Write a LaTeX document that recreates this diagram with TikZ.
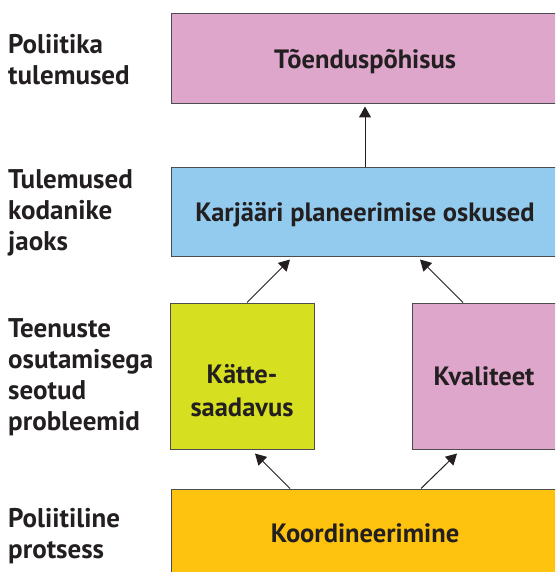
\documentclass[tikz,border=0pt]{standalone}
\usepackage{fontspec}
\setmainfont{PT Sans}
\usetikzlibrary{arrows.meta}
\definecolor{roosa}{HTML}{DDA6CA}
\definecolor{sinine}{HTML}{92CBEE}
\definecolor{laim}{HTML}{D7DF21}
\definecolor{oranz}{HTML}{FDC30F}
\definecolor{tekst}{HTML}{231F20}
\definecolor{joon}{HTML}{4D4D4F}
\begin{document}
\begin{tikzpicture}[x=1pt,y=-1pt,
    kast/.style={draw=joon,line width=1pt,text=tekst,align=center,inner sep=0pt,
        font=\fontsize{26.5}{33}\selectfont\bfseries},
    rida/.style={text height=21pt,text depth=2pt},
    silt/.style={anchor=west,align=left,text=tekst,inner sep=0pt,
        font=\fontsize{27}{31}\selectfont\bfseries},
    nool/.style={draw=tekst,line width=1pt,-{Triangle[length=11pt,width=12pt]}}]
    \useasboundingbox (0,0) rectangle (555,572);
    \clip (0,0) rectangle (555,572);
    % kastid
    \node[kast,rida,fill=roosa,minimum width=388pt,minimum height=90pt] (tulem) at (365,59) {Tõenduspõhisus};
    \node[kast,rida,fill=sinine,minimum width=388pt,minimum height=89pt] (oskus) at (365,211.5) {Karjääri planeerimise oskused};
    \node[kast,fill=laim,minimum width=144pt,minimum height=146pt] (kate) at (242,376) {};
    \node[kast,draw=none] (kate tekst) at ([yshift=-15pt]kate.center) {Kätte-\\saadavus};
    \node[kast,rida,fill=roosa,minimum width=144pt,minimum height=146pt] (kval) at (484,376) {Kvaliteet};
    \node[kast,rida,fill=oranz,minimum width=388pt,minimum height=88pt] (koord) at (365,533) {Koordineerimine};
    % nooled
    \draw[nool] (oskus.north) -- ([yshift=-2pt]tulem.south);
    \draw[nool] ([xshift=5pt]kate.north) -- ([xshift=-75pt,yshift=-3pt]oskus.south);
    \draw[nool] ([xshift=-21pt]kval.north) -- ([xshift=55pt,yshift=-3pt]oskus.south);
    \draw[nool] ([xshift=-75pt]koord.north) -- ([xshift=13pt,yshift=-4pt]kate.south);
    \draw[nool] ([xshift=56pt]koord.north) -- ([xshift=-27pt,yshift=-4pt]kval.south);
    % tasemed
    \node[silt] (tase1) at (8,60) {Poliitika\\tulemused};
    \node[silt] (tase2) at (8,213) {Tulemused\\kodanike\\jaoks};
    \node[silt] (tase3) at (8,377) {Teenuste\\osutamisega\\seotud\\probleemid};
    \node[silt] (tase4) at (8,536) {Poliitiline\\protsess};
\end{tikzpicture}
\end{document}
